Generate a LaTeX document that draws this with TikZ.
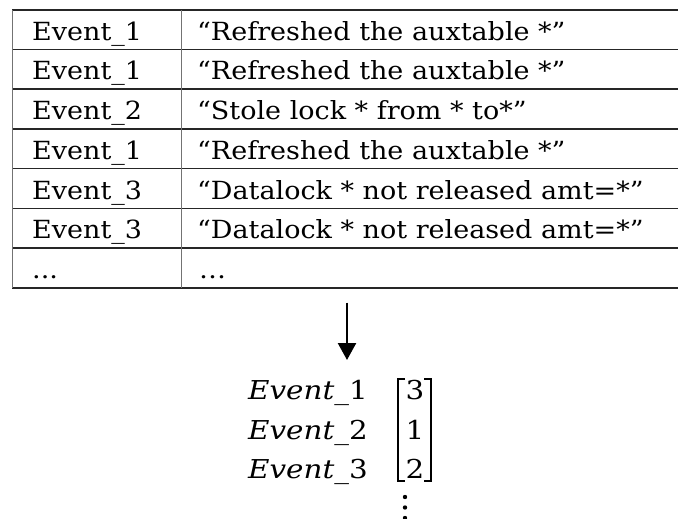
\documentclass[tikz,border=0pt]{standalone}
\usepackage{fontspec}
\setmainfont{DejaVu Serif}
\newfontfamily\cellfont{DejaVu Serif}[FakeStretch=1.08]
\newfontfamily\vecfont{DejaVu Serif}[FakeStretch=1.13]
\usetikzlibrary{arrows.meta}
\tikzset{
  cell/.style={anchor=base west, inner sep=0pt, font=\cellfont\fontsize{25}{28}\selectfont},
  mrow/.style={anchor=base west, inner sep=0pt, font=\vecfont\fontsize{26}{30}\selectfont},
  digit/.style={anchor=base, inner sep=0pt, font=\vecfont\fontsize{26}{30}\selectfont},
  hline/.style={line width=1.6pt, draw=black!85},
  vline/.style={line width=1.1pt, draw=black!55},
  brk/.style={line width=1.8pt, draw=black},
}
\begin{document}
\begin{tikzpicture}[x=1pt,y=-1pt]
\useasboundingbox (0,0) rectangle (678,519);
% table rules
\foreach \i in {0,...,7}{
  \draw[hline] (12,{9.8+\i*39.7}) -- (678,{9.8+\i*39.7});
}
\draw[vline] (12.3,9.8) -- (12.3,287.7);
\draw[vline] (181.5,9.8) -- (181.5,287.7);
% cells
\node[cell] (e1) at (32,40.3) {Event\_1};
\node[cell] (t1) at (197,40.3) {“Refreshed the auxtable *”};
\node[cell] (e2) at (32,80.0) {Event\_1};
\node[cell] (t2) at (197,80.0) {“Refreshed the auxtable *”};
\node[cell] (e3) at (32,119.7) {Event\_2};
\node[cell] (t3) at (197,119.7) {“Stole lock * from * to*”};
\node[cell] (e4) at (32,159.4) {Event\_1};
\node[cell] (t4) at (197,159.4) {“Refreshed the auxtable *”};
\node[cell] (e5) at (32,199.1) {Event\_3};
\node[cell] (t5) at (197,199.1) {“Datalock * not released amt=*”};
\node[cell] (e6) at (32,238.8) {Event\_3};
\node[cell] (t6) at (197,238.8) {“Datalock * not released amt=*”};
\node[cell] (e7) at (32,278.5) {...};
\node[cell] (t7) at (199,278.5) {…};
% arrow
\coordinate (as) at (347,302.5);
\coordinate (ae) at (347,360);
\draw[line width=2.4pt, -{Triangle[width=18pt,length=17pt]}] (as) -- (ae);
% vector
\node[mrow] (m1) at (248,399) {\textit{Event}\_1};
\node[mrow] (m2) at (248,439) {\textit{Event}\_2};
\node[mrow] (m3) at (248,478.5) {\textit{Event}\_3};
\node[digit] (d1) at (415,399) {3};
\node[digit] (d2) at (415,439) {1};
\node[digit] (d3) at (415,478.5) {2};
\draw[brk] (405,379) -- (398,379) -- (398,481) -- (405,481);
\draw[brk] (424,379) -- (431,379) -- (431,481) -- (424,481);
\foreach \y in {497,507.5,518}{
  \fill (405,\y) circle (2.2);
}
\end{tikzpicture}
\end{document}
